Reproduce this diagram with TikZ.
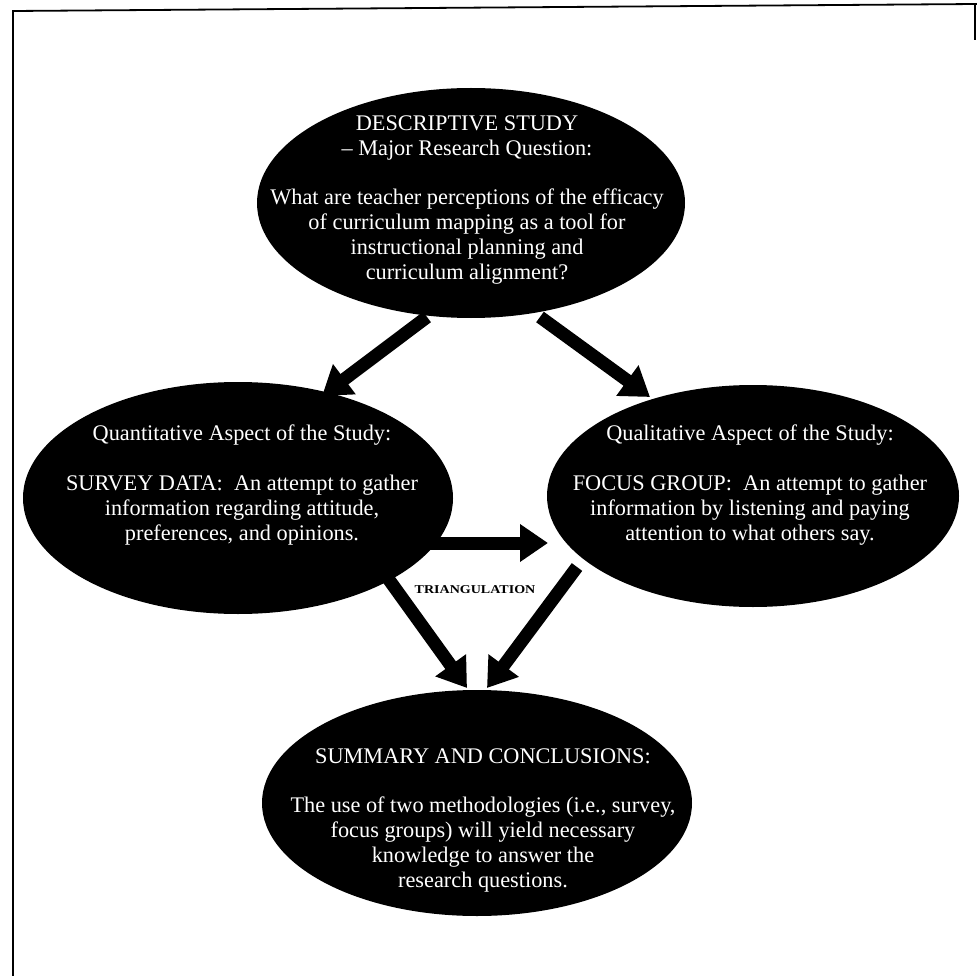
\documentclass[tikz,border=0pt]{standalone}
\usepackage{fontspec}
\setmainfont{Liberation Serif}
\usetikzlibrary{arrows.meta,shapes.geometric}
\begin{document}
\begin{tikzpicture}[x=1pt,y=-1pt,
  blob/.style={ellipse,fill=black,draw=none,inner sep=0pt},
  wtext/.style={text=white,align=center,font=\fontsize{22.3}{24.8}\selectfont,inner sep=0pt},
  fatarrow/.style={line width=13pt,-{Triangle[length=28pt,width=36pt]}},
  frameline/.style={line width=1.8pt}]
\fill[white] (0,0) rectangle (977,976);
\useasboundingbox (0,0) rectangle (977,976);
% frame
\coordinate (fTL) at (13,11);
\coordinate (fTR) at (977,4);
\coordinate (fBL) at (13,976);
\coordinate (fRs) at (975,4);
\coordinate (fRe) at (975,40);
\draw[frameline] (fBL) -- (fTL) -- (fTR);
\draw[line width=1.2pt] (fRs) -- (fRe);
% ellipses
\node[blob,minimum width=428pt,minimum height=230pt] (top) at (471,203) {};
\node[blob,minimum width=430pt,minimum height=232pt] (left) at (238,498) {};
\node[blob,minimum width=412pt,minimum height=222pt] (right) at (753,496) {};
\node[blob,minimum width=430pt,minimum height=226pt] (bottom) at (477,803) {};
% texts
\node[wtext] (toptext) at (467,200) {DESCRIPTIVE STUDY\\-- Major Research Question:\\[24.8pt]What are teacher perceptions of the efficacy\\of curriculum mapping as a tool for\\instructional planning and\\curriculum alignment?};
\node[wtext] (lefttext) at (242,485) {Quantitative Aspect of the Study:\\[24.8pt]SURVEY DATA:\ \ An attempt to gather\\information regarding attitude,\\preferences, and opinions.};
\node[wtext] (righttext) at (750,485) {Qualitative Aspect of the Study:\\[24.8pt]FOCUS GROUP:\ \ An attempt to gather\\information by listening and paying\\attention to what others say.};
\node[wtext] (bottomtext) at (483,820) {SUMMARY AND CONCLUSIONS:\\[24.8pt]The use of two methodologies (i.e., survey,\\focus groups) will yield necessary\\knowledge to answer the\\research questions.};
\node[font=\fontsize{12}{14}\selectfont\bfseries,xscale=1.17,inner sep=0pt] (tri) at (475,590) {TRIANGULATION};
% arrow coordinates
\coordinate (t1) at (427,317);
\coordinate (l1) at (322,396);
\coordinate (t2) at (540,317);
\coordinate (r1) at (650,397);
\coordinate (l2) at (428,543);
\coordinate (r2) at (548,543);
\coordinate (l3) at (387,577);
\coordinate (b1) at (467,688);
\coordinate (r3) at (577,567);
\coordinate (b2) at (487,688);
\draw[fatarrow] (t1) -- (l1);
\draw[fatarrow] (t2) -- (r1);
\draw[fatarrow] (l2) -- (r2);
\draw[fatarrow] (l3) -- (b1);
\draw[fatarrow] (r3) -- (b2);
\end{tikzpicture}
\end{document}
